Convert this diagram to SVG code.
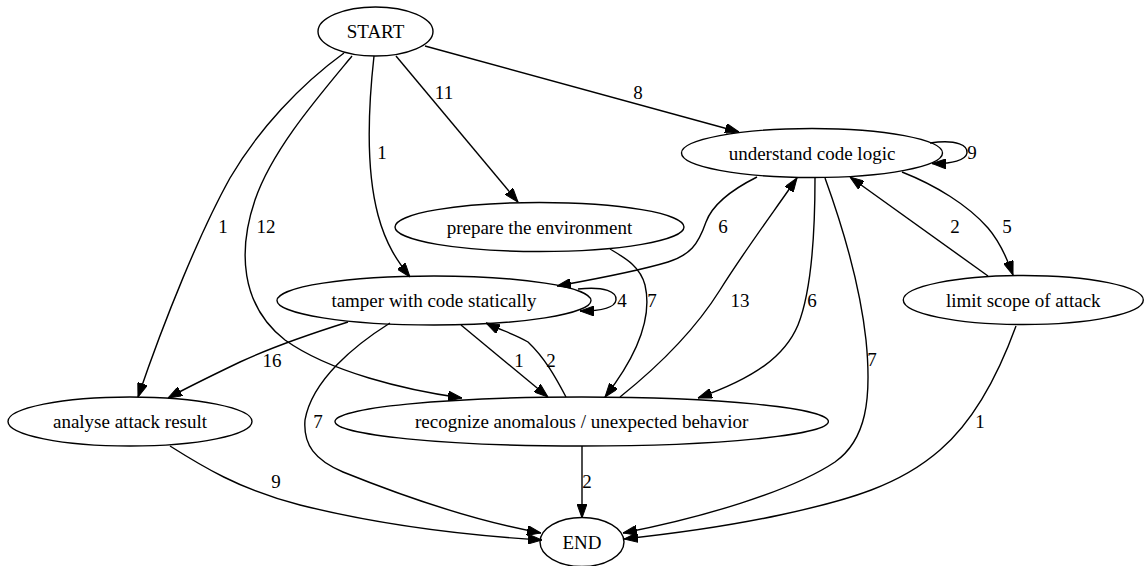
<svg xmlns="http://www.w3.org/2000/svg" width="1144" height="566" viewBox="0 0 1144 566">
<style>
.n ellipse{fill:none;stroke:#000;stroke-width:1.4}
.n text,.lbl{font-family:"Liberation Serif","Times New Roman",serif;font-size:19px;fill:#000;text-anchor:middle}
.e path{fill:none;stroke:#000;stroke-width:1.4;marker-end:url(#ah)}
</style>
<defs>
<marker id="ah" markerUnits="userSpaceOnUse" viewBox="0 0 14 10" refX="14" refY="5" markerWidth="14" markerHeight="10" orient="auto">
<path d="M0,0 L14,5 L0,10 Z" fill="#000" stroke="#000" stroke-width="1"/>
</marker>
</defs>
<rect width="1144" height="566" fill="#fff"/>
<g id="connectors" class="e">
<path d="M344,53 C300,85 258,130 230,178 C200,232 165,318 138,397"/>
<text class="lbl" x="223" y="233">1</text>
<path d="M352,56 C318,97 272,150 255,200 C238,250 240,305 285,340 C330,372 405,390 462,398"/>
<text class="lbl" x="266" y="233">12</text>
<path d="M374,56 C368,110 366,170 378,215 C386,245 398,262 410,277"/>
<text class="lbl" x="382" y="159">1</text>
<path d="M396,56 L518,202"/>
<text class="lbl" x="444" y="99">11</text>
<path d="M425,46 L739,132"/>
<text class="lbl" x="638" y="99">8</text>
<path d="M930,143 C958,139 968,146 967,153 C966,160 952,164 932,163.5"/>
<text class="lbl" x="972" y="159">9</text>
<path d="M757,177 C735,188 713,203 706,222 C698,245 690,255 668,262 C635,272 590,280 557,286"/>
<text class="lbl" x="723" y="233">6</text>
<path d="M815,178 C815,235 812,290 798,325 C785,356 755,378 698,398"/>
<text class="lbl" x="812" y="307">6</text>
<path d="M825,178 C842,225 860,285 866,340 C872,400 866,440 835,462 C790,492 700,518 623,533"/>
<text class="lbl" x="872" y="366">7</text>
<path d="M902,172 C935,185 968,205 988,228 C1000,242 1007,258 1013,275"/>
<text class="lbl" x="1007" y="233">5</text>
<path d="M988,276 L850,177"/>
<text class="lbl" x="955" y="233">2</text>
<path d="M578,289 C605,286 617,292 616,300 C615,308 600,311 580,311"/>
<text class="lbl" x="622" y="307">4</text>
<path d="M348,322 C310,334 270,348 240,362 C215,374 190,386 168,398"/>
<text class="lbl" x="272" y="367">16</text>
<path d="M390,323 C355,345 312,380 305,420 C303,445 315,460 343,472 C400,495 470,520 541,533"/>
<text class="lbl" x="318" y="428">7</text>
<path d="M461,325 L548,397"/>
<text class="lbl" x="519" y="367">1</text>
<path d="M566,397 C556,378 545,358 528,342 C515,334 500,330 486,323"/>
<text class="lbl" x="551" y="367">2</text>
<path d="M610,249 C625,258 640,266 645,285 C652,315 640,352 605,397"/>
<text class="lbl" x="652" y="307">7</text>
<path d="M620,397 C660,365 695,330 720,290 C745,250 775,210 797,178"/>
<text class="lbl" x="740" y="307">13</text>
<path d="M582,446 L582,518"/>
<text class="lbl" x="587" y="488">2</text>
<path d="M170,446 C200,465 240,490 300,505 C380,525 460,535 542,540"/>
<text class="lbl" x="276" y="488">9</text>
<path d="M1016,326 C1000,370 975,420 940,450 C900,485 850,500 780,515 C720,528 670,534 624,539"/>
<text class="lbl" x="980" y="428">1</text>
</g>
<g id="START" class="n"><ellipse cx="375.5" cy="31.5" rx="57.5" ry="24.5"/><text x="375.5" y="38">START</text></g>
<g id="understand" class="n"><ellipse cx="812" cy="153" rx="130.5" ry="24.5"/><text x="812" y="159.5">understand code logic</text></g>
<g id="prepare" class="n"><ellipse cx="539.5" cy="227" rx="144.5" ry="24.5"/><text x="539.5" y="233.5">prepare the environment</text></g>
<g id="tamper" class="n"><ellipse cx="434" cy="300.5" rx="157" ry="24.5"/><text x="434" y="307">tamper with code statically</text></g>
<g id="limit" class="n"><ellipse cx="1023.3" cy="300" rx="120" ry="24.5"/><text x="1023.3" y="306.5">limit scope of attack</text></g>
<g id="analyse" class="n"><ellipse cx="130" cy="421.5" rx="122" ry="24.5"/><text x="130" y="428">analyse attack result</text></g>
<g id="recognize" class="n"><ellipse cx="581.7" cy="421.5" rx="246.7" ry="24.5"/><text x="581.7" y="428">recognize anomalous / unexpected behavior</text></g>
<g id="END" class="n"><ellipse cx="582" cy="542" rx="42" ry="24.5"/><text x="582" y="548.5">END</text></g>
</svg>
